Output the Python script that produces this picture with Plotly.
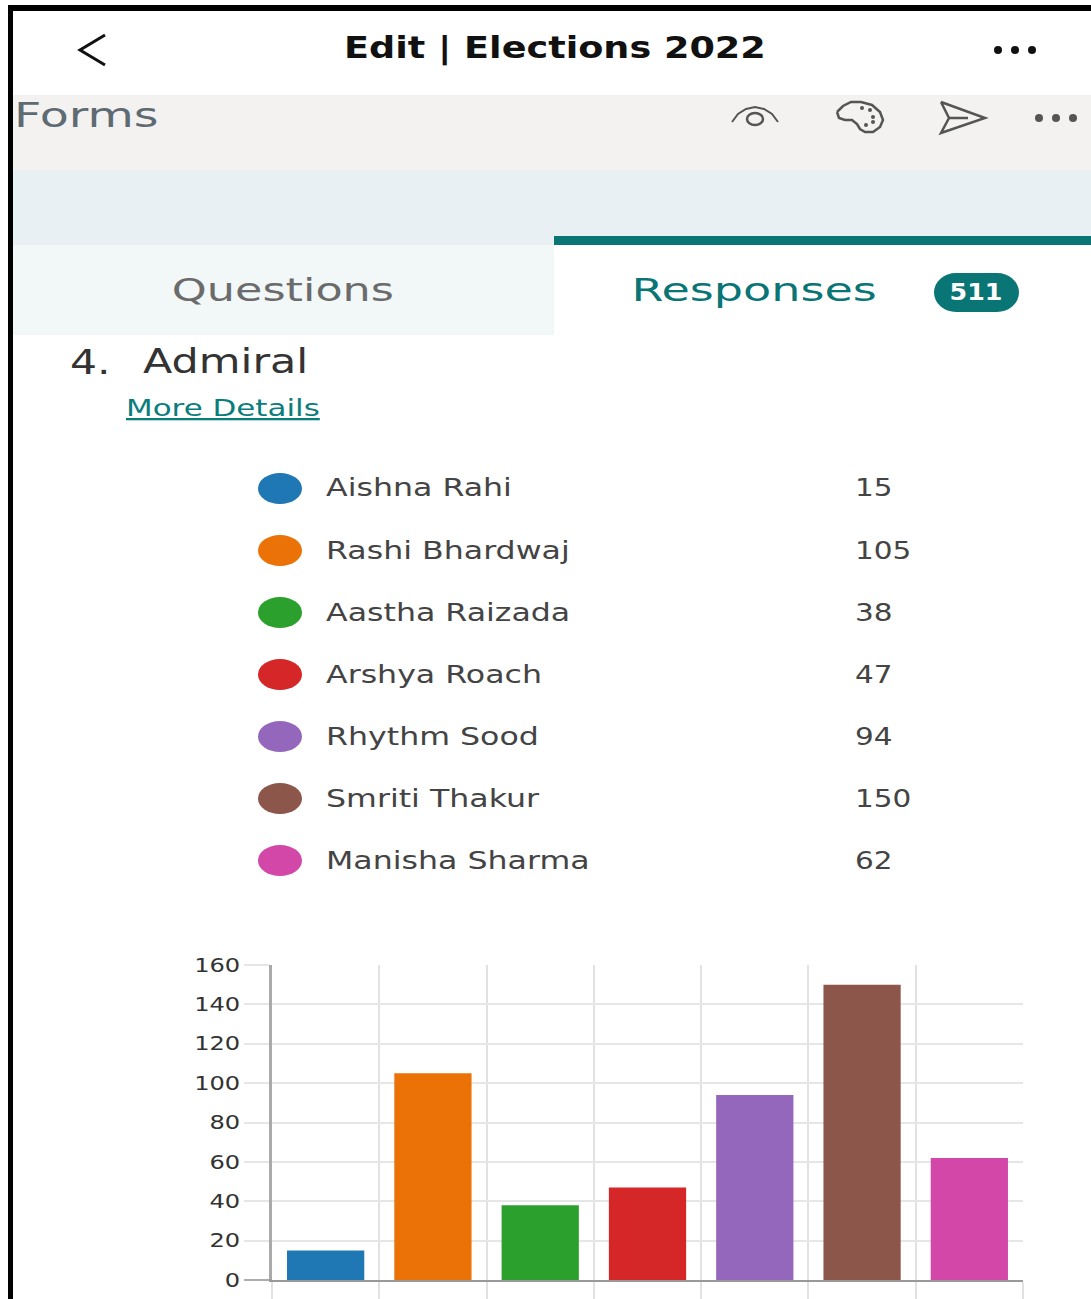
import json
import plotly.graph_objects as go

W, H = 1091, 1299
candidates = ["Aishna Rahi", "Rashi Bhardwaj", "Aastha Raizada", "Arshya Roach", "Rhythm Sood", "Smriti Thakur", "Manisha Sharma"]
votes = [15, 105, 38, 47, 94, 150, 62]
colors = ["#1f77b4", "#ea7207", "#2ca02c", "#d62728", "#9467bd", "#8c564b", "#d347a8"]
y_ticks = [0, 20, 40, 60, 80, 100, 120, 140, 160]
FONT = "DejaVu Sans"


def X(v):
    return v / W


def Y(v):
    return 1 - v / H


shapes = []


def rect(x0, y0, x1, y1, color):
    shapes.append(dict(type="rect", xref="paper", yref="paper", x0=X(x0), x1=X(x1), y0=Y(y0), y1=Y(y1),
                       fillcolor=color, line_width=0, layer="below"))


def ell(x0, y0, x1, y1, color, line=None, lw=0):
    shapes.append(dict(type="circle", xref="paper", yref="paper", x0=X(x0), x1=X(x1), y0=Y(y0), y1=Y(y1),
                       fillcolor=color, line=dict(width=lw, color=line or color), layer="above"))


def path(points, color, width=2.5, close=False):
    d = "M " + " L ".join(f"{X(a):.5f},{Y(b):.5f}" for a, b in points) + (" Z" if close else "")
    shapes.append(dict(type="path", xref="paper", yref="paper", path=d, line=dict(color=color, width=width), layer="above"))


annotations = []
stretch = []  # horizontal stretch of each annotation, the reference photo is widened


def text(x, y, s, size, color="#222", anchor="left", weight=400, ratio=1.25, under=False):
    font = dict(family=FONT, size=size, color=color, weight=weight)
    if under:
        font["lineposition"] = "under"
    annotations.append(dict(xref="paper", yref="paper", x=X(x), y=Y(y), text=s, showarrow=False,
                            xanchor=anchor, yanchor="middle", font=font, borderpad=0, borderwidth=0))
    stretch.append([ratio, anchor == "left"])


# page frame and bands
rect(8, 5, W, 11, "#000000")
rect(8, 5, 13, H, "#000000")
rect(13, 95, W, 170, "#f3f2f1")
rect(13, 170, W, 245, "#e9f0f4")
rect(13, 245, 554, 335, "#f2f7f8")
rect(554, 236, W, 245, "#0a7575")

# header
path([(105, 35), (80, 50), (105, 65)], "#111", 3)
text(555, 48, "Edit | Elections 2022", 30, "#111", "center", 700, 1.22)
for cx in (998, 1015, 1032):
    ell(cx - 4, 46, cx + 4, 54, "#111")
text(14, 115, "Forms", 33, "#5f6b73", ratio=1.44)

# toolbar icons
path([(732, 122), (738, 114), (746, 109), (755, 107), (764, 109), (772, 114), (778, 122)], "#555", 2)
ell(747, 113, 763, 125, "rgba(0,0,0,0)", "#555", 2.5)
path([(837, 112), (843, 106), (851, 102), (861, 102), (872, 105), (880, 112), (883, 120), (880, 127), (873, 132),
      (865, 132), (860, 129), (857, 124), (852, 120), (845, 120), (839, 118), (837, 112)], "#555", 2.5)
for cx, cy in ((862, 108), (870, 110), (873, 117), (873, 122), (866, 125)):
    ell(cx - 2, cy - 2, cx + 2, cy + 2, "#555")
path([(941, 102), (985, 118), (941, 133), (949, 118), (941, 102)], "#555", 2.5)
path([(949, 118), (968, 118)], "#555", 2.5)
for cx in (1039, 1056, 1073):
    ell(cx - 4, 114, cx + 4, 122, "#555")

# tabs
text(283, 290, "Questions", 32, "#6b6b6b", "center", ratio=1.39)
text(754, 290, "Responses", 32, "#0a7575", "center", ratio=1.44)
ell(934, 273, 978, 312, "#0a7575")
ell(975, 273, 1019, 312, "#0a7575")
rect(956, 273, 997, 312, "#0a7575")
text(976, 292, "511", 23, "#ffffff", "center", 700, 1.1)

# question
text(70, 362, "4.", 34, "#333", ratio=1.25)
text(143, 361, "Admiral", 34, "#333", ratio=1.26)
text(126, 408, "More Details", 23, "#0a7d7d", ratio=1.345, under=True)

# legend built from the data
row_y = [488, 550, 612, 674, 736, 798, 860]
for name, value, color, ry in zip(candidates, votes, colors, row_y):
    ell(258, ry - 15, 302, ry + 16, color)
    text(326, ry, name, 25, "#444", ratio=1.265)
    text(855, ry, str(value), 25, "#444", ratio=1.18)

fig = go.Figure(go.Bar(x=candidates, y=votes, marker=dict(color=colors, line_width=0), width=0.72, showlegend=False))

# axis tick at zero is darker
path([(244, 1280), (272, 1280)], "#999", 1.5)

fig.update_layout(
    width=W, height=H, margin=dict(l=0, r=0, t=0, b=0, autoexpand=False), autosize=False,
    paper_bgcolor="#ffffff", plot_bgcolor="#ffffff", shapes=shapes, annotations=annotations,
    font=dict(family=FONT, color="#333"),
    xaxis=dict(domain=[X(272), X(1023)], type="category", tickson="boundaries", showticklabels=False,
               showgrid=True, gridcolor="#e2e2e5", gridwidth=2, ticks="outside", ticklen=19, tickcolor="#e2e2e5",
               tickwidth=2, showline=True, linecolor="#999", linewidth=2, zeroline=False),
    yaxis=dict(domain=[Y(1280), Y(965)], range=[0, 160], tickvals=y_ticks, ticks="outside", ticklen=25,
               tickcolor="#e6e6e6", tickwidth=2, showgrid=True, gridcolor="#e6e6e6", gridwidth=2,
               showline=True, linecolor="#aaaaaa", linewidth=3, zeroline=False,
               tickfont=dict(family=FONT, size=19, color="#333")),
)

post = """
document.body.style.margin = '0';
var stretch = %s;
function widen(el, r, moveRight) {
  var len = el.getComputedTextLength();
  el.setAttribute('textLength', len * r);
  el.setAttribute('lengthAdjust', 'spacingAndGlyphs');
  if (moveRight) {
    el.setAttribute('x', parseFloat(el.getAttribute('x') || 0) + len * (r - 1) / 2);
  }
}
document.querySelectorAll('.annotation-text').forEach(function (el, i) { widen(el, stretch[i][0], stretch[i][1]); });
document.querySelectorAll('.ytick text').forEach(function (el) { widen(el, 1.27, false); });
""" % json.dumps(stretch)
fig.write_html("out.html", post_script=post, config={"displayModeBar": False})
